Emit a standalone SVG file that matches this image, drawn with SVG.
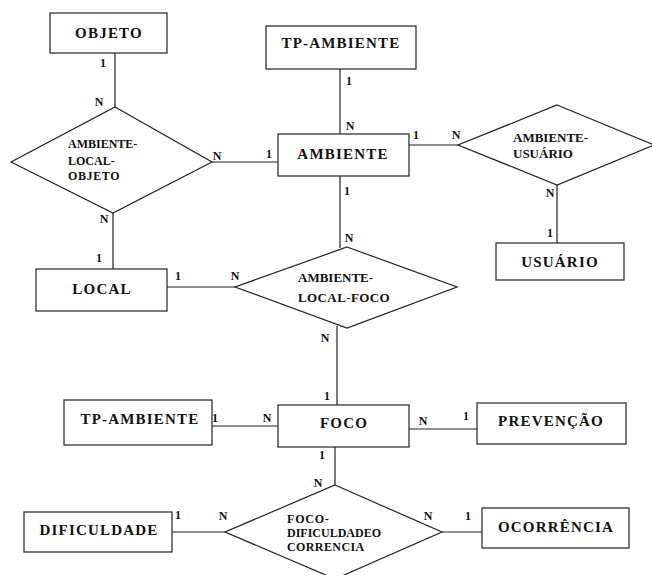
<svg xmlns="http://www.w3.org/2000/svg" width="652" height="575" viewBox="0 0 652 575">
<style>
.box{fill:#fff;stroke:#222;stroke-width:1.2}
.dia{fill:#fff;stroke:#222;stroke-width:1.2}
.ln{stroke:#222;stroke-width:1.2;fill:none}
text{font-family:"Liberation Serif","Times New Roman",serif;font-weight:bold;fill:#111}
.ent{font-size:15px;letter-spacing:1.2px;text-anchor:middle}
.rel{font-size:12px}
.rel13{font-size:13px}
.card{font-size:12px;text-anchor:middle}
</style>
<rect width="652" height="575" fill="#fff"/>
<g id="connectors">
<line class="ln" x1="115" y1="53" x2="115" y2="107"/>
<line class="ln" x1="212" y1="162" x2="278" y2="162"/>
<line class="ln" x1="113" y1="213" x2="113" y2="269"/>
<line class="ln" x1="340" y1="69" x2="340" y2="134"/>
<line class="ln" x1="409" y1="145" x2="458" y2="145"/>
<line class="ln" x1="557" y1="185" x2="557" y2="243"/>
<line class="ln" x1="340" y1="176" x2="340" y2="248"/>
<line class="ln" x1="167" y1="287" x2="236" y2="287"/>
<line class="ln" x1="337" y1="326" x2="337" y2="405"/>
<line class="ln" x1="212" y1="426" x2="278" y2="426"/>
<line class="ln" x1="409" y1="429" x2="477" y2="429"/>
<line class="ln" x1="335" y1="447" x2="335" y2="485"/>
<line class="ln" x1="172" y1="532" x2="225" y2="532"/>
<line class="ln" x1="442" y1="532" x2="482" y2="532"/>
</g>
<g id="objeto"><rect class="box" x="50" y="13" width="117" height="40"/><text class="ent" x="109" y="38">OBJETO</text></g>
<g id="tp-ambiente-1"><rect class="box" x="266" y="26" width="150" height="43"/><text class="ent" x="341" y="48">TP-AMBIENTE</text></g>
<g id="ambiente"><rect class="box" x="278" y="134" width="131" height="42"/><text class="ent" x="343" y="159">AMBIENTE</text></g>
<g id="usuario"><rect class="box" x="496" y="243" width="128" height="37"/><text class="ent" x="560" y="267">USUÁRIO</text></g>
<g id="local"><rect class="box" x="36" y="269" width="131" height="42"/><text class="ent" x="102" y="294">LOCAL</text></g>
<g id="tp-ambiente-2"><rect class="box" x="64" y="400" width="148" height="45"/><text class="ent" x="140" y="424">TP-AMBIENTE</text></g>
<g id="foco"><rect class="box" x="278" y="405" width="131" height="42"/><text class="ent" x="344" y="428">FOCO</text></g>
<g id="prevencao"><rect class="box" x="477" y="403" width="149" height="41"/><text class="ent" x="551" y="426">PREVENÇÃO</text></g>
<g id="dificuldade"><rect class="box" x="24" y="512" width="148" height="40"/><text class="ent" x="99" y="535">DIFICULDADE</text></g>
<g id="ocorrencia"><rect class="box" x="482" y="508" width="147" height="40"/><text class="ent" x="556" y="532">OCORRÊNCIA</text></g>
<g id="ambiente-local-objeto"><polygon class="dia" points="115,107 212,162 113,213 11,162"/>
<text class="rel" x="68" y="148">AMBIENTE-</text><text class="rel" x="68" y="165">LOCAL-</text><text class="rel" x="68" y="180" style="letter-spacing:0.6px">OBJETO</text></g>
<g id="ambiente-usuario"><polygon class="dia" points="557,105 654,145 557,185 458,145"/>
<text class="rel13" x="513" y="142">AMBIENTE-</text><text class="rel13" x="513" y="158">USUÁRIO</text></g>
<g id="ambiente-local-foco"><polygon class="dia" points="347,247 457,287 347,328 235,287"/>
<text class="rel13" x="298" y="282">AMBIENTE-</text><text class="rel13" x="298" y="302" style="letter-spacing:0.4px">LOCAL-FOCO</text></g>
<g id="foco-dificuldade-ocorrencia"><polygon class="dia" points="335,485 442,532 335,579 225,532"/>
<text class="rel" x="287" y="523" style="letter-spacing:0.8px">FOCO-</text><text class="rel" x="287" y="537">DIFICULDADEO</text><text class="rel" x="287" y="551" style="letter-spacing:0.4px">CORRENCIA</text></g>
<g id="cardinalities">
<text class="card" x="103" y="67">1</text>
<text class="card" x="99" y="106">N</text>
<text class="card" x="217" y="160">N</text>
<text class="card" x="269" y="158">1</text>
<text class="card" x="349" y="85">1</text>
<text class="card" x="350" y="130">N</text>
<text class="card" x="416" y="139">1</text>
<text class="card" x="456" y="139">N</text>
<text class="card" x="550" y="197">N</text>
<text class="card" x="550" y="237">1</text>
<text class="card" x="347" y="195">1</text>
<text class="card" x="349" y="242">N</text>
<text class="card" x="104" y="223">N</text>
<text class="card" x="99" y="262">1</text>
<text class="card" x="178" y="280">1</text>
<text class="card" x="235" y="280">N</text>
<text class="card" x="325" y="342">N</text>
<text class="card" x="327" y="400">1</text>
<text class="card" x="215" y="422">1</text>
<text class="card" x="267" y="422">N</text>
<text class="card" x="423" y="425">N</text>
<text class="card" x="466" y="420">1</text>
<text class="card" x="322" y="459">1</text>
<text class="card" x="318" y="487">N</text>
<text class="card" x="178" y="519">1</text>
<text class="card" x="223" y="520">N</text>
<text class="card" x="428" y="520">N</text>
<text class="card" x="468" y="520">1</text>
</g>
</svg>
